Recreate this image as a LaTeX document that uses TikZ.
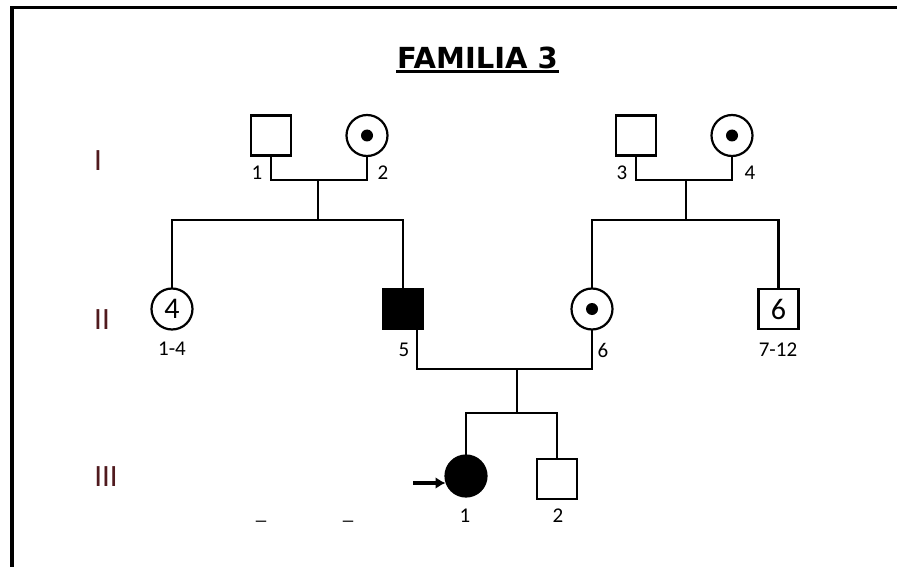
\documentclass[tikz,border=0pt]{standalone}
\usepackage{fontspec}
\setmainfont{Carlito}
\newfontfamily\titlefont{DejaVu Sans}
\usetikzlibrary{arrows.meta}
\definecolor{genred}{RGB}{80,26,30}

\begin{document}
\begin{tikzpicture}[x=1pt,y=-1pt,
  line width=2.2pt,
  male/.style={draw, rectangle, line width=2.2pt, minimum size=40pt, inner sep=0pt, outer sep=0pt},
  female/.style={draw, circle, line width=2.2pt, minimum size=41pt, inner sep=0pt, outer sep=0pt},
  carrier/.style={female, path picture={\fill (path picture bounding box.center) circle (6pt);}},
  affected/.style={fill=black},
  lbl/.style={font=\fontsize{21}{24}\selectfont, inner sep=0pt},
  gen/.style={font=\fontsize{31}{36}\selectfont, text=genred, inner sep=0pt},
  num/.style={font=\fontsize{30}{34}\selectfont, inner sep=0pt},
  probandarrow/.style={line width=3.6pt, -{Latex[length=10pt,width=12pt]}},
]
\useasboundingbox (0,0) rectangle (897,567);
\clip (0,0) rectangle (897,567);

% frame
\draw[line width=3.5pt] (12,600) -- (12,7.5) -- (920,7.5);

% title
\node[font=\titlefont\bfseries\fontsize{29}{34}\selectfont, inner sep=0pt] (title) at (477.5,57.5) {FAMILIA 3};
\draw[line width=2.5pt] ([yshift=-3.5pt]title.base west) -- ([yshift=-3.5pt]title.base east);

% generation numerals
\node[gen] (g1) at (98,161) {I};
\node[gen] (g2) at (102,320) {II};
\node[gen] (g3) at (106,477) {III};

% generation I
\node[male]    (i1) at (271,135.5) {};
\node[carrier] (i2) at (367,135.5) {};
\node[male]    (i3) at (636,135.5) {};
\node[carrier] (i4) at (732,135.5) {};
\node[lbl] (l1) at (257,173) {1};
\node[lbl] (l2) at (383,173) {2};
\node[lbl] (l3) at (622,173) {3};
\node[lbl] (l4) at (750,173) {4};

% generation II
\node[female]          (ii4) at (172,309) {};
\node[num] at (ii4) {4};
\node[male, affected]  (ii5) at (403,309) {};
\node[carrier]         (ii6) at (592,309) {};
\node[male]            (ii7) at (778.5,309) {};
\node[num] at (ii7) {6};
\node[lbl] (l5)  at (172,349) {1-4};
\node[lbl] (l6)  at (404,350) {5};
\node[lbl] (l7)  at (603,350) {6};
\node[lbl] (l8)  at (778,350) {7-12};

% generation III
\node[female, affected] (iii1) at (466,476) {};
\node[male]             (iii2) at (557,479) {};
\node[lbl] (l9)  at (465,516) {1};
\node[lbl] (l10) at (558,516) {2};
\node[lbl, anchor=base] (d1) at (261,519) {\_};
\node[lbl, anchor=base] (d2) at (348,519) {\_};

% couples and sibships, generation I
\coordinate (m1) at (318,180);
\coordinate (s1) at (318,220);
\draw (i1.south) |- (m1) -| (i2.south);
\draw (m1) -- (s1);
\draw (ii4.north) |- (s1) -| (ii5.north);

\coordinate (m2) at (686,180);
\coordinate (s2) at (686,220);
\draw (i3.south) |- (m2) -| (i4.south);
\draw (m2) -- (s2);
\draw (ii6.north) |- (s2) -| (ii7.north);

% couple and sibship, generation II
\coordinate (m3) at (517,369);
\coordinate (s3) at (517,413);
\draw ([xshift=-6pt]ii5.south east) |- (m3) -| (ii6.south);
\draw (m3) -- (s3);
\draw (iii1.north) |- (s3) -| (iii2.north);

% proband
\coordinate (pa) at (413,483);
\draw[probandarrow] (pa) -- (pa -| iii1.west);
\end{tikzpicture}
\end{document}
